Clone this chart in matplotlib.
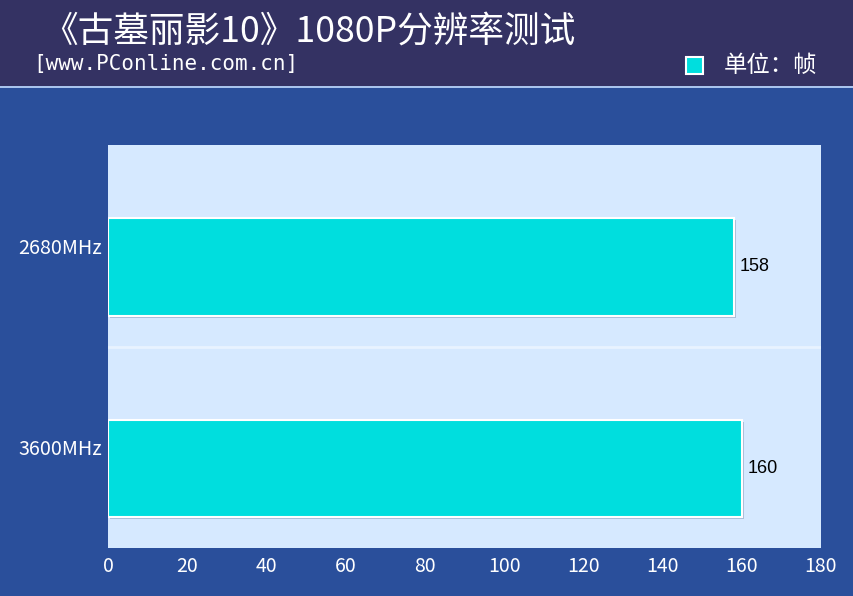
import numpy as np
import matplotlib
matplotlib.use('Agg')
import matplotlib.pyplot as plt
from matplotlib.patches import Rectangle
import matplotlib.patheffects as pe

plt.rcParams['font.family'] = ['Noto Sans CJK SC', 'DejaVu Sans']

# 数据
categories = ['2680MHz', '3600MHz']
values = [158, 160]
x_ticks = [0, 20, 40, 60, 80, 100, 120, 140, 160, 180]
title = '《古墓丽影10》1080P分辨率测试'
subtitle = '[www.PConline.com.cn]'
unit = '单位：帧'

head_c = '#343263'
body_c = '#2a4f9b'
plot_bg = '#d6e9ff'
bar_c = '#00dede'

W, H = 854, 596
fig = plt.figure(figsize=(W / 100, H / 100), dpi=100)
fig.patch.set_facecolor(body_c)

# 顶部标题栏
fig.patches.append(Rectangle((0, 1 - 86 / H), 1, 86 / H, transform=fig.transFigure,
                             facecolor=head_c, edgecolor='none', zorder=0))
fig.patches.append(Rectangle((0, 1 - 88 / H), 1, 2 / H, transform=fig.transFigure,
                             facecolor='#a9c4ee', edgecolor='none', zorder=0))

fig.text(42 / W, 1 - 32 / H, title, color='white', fontsize=25.7, va='center', ha='left')
fig.text(33 / W, 1 - 64 / H, subtitle, color='white', fontsize=15, va='center', ha='left',
         family='DejaVu Sans Mono')
fig.patches.append(Rectangle((686 / W, 1 - 74 / H), 17 / W, 17 / H, transform=fig.transFigure,
                             facecolor=bar_c, edgecolor='white', linewidth=1.5, zorder=2))
fig.text(724 / W, 1 - 65 / H, unit, color='white', fontsize=16.8, va='center', ha='left')

ax = fig.add_axes([108 / W, 48 / H, 713 / W, 403 / H])
ax.set_facecolor(plot_bg)
for s in ax.spines.values():
    s.set_visible(False)

y = np.arange(len(categories))
bar_shift = 0.105
ax.barh(y + bar_shift, values, height=0.485, color=bar_c, edgecolor='white', linewidth=1.5,
        path_effects=[pe.SimplePatchShadow(offset=(1.5, -1.5), shadow_rgbFace='#8aa0c0', alpha=0.6),
                      pe.Normal()], zorder=3)
ax.set_ylim(1.5, -0.5)
ax.set_xlim(0, 180)
ax.axhline(0.5, color='#e8f3ff', linewidth=2, zorder=1)

for i, v in enumerate(values):
    ax.text(v + 1.5, y[i] + bar_shift, str(v), va='center', ha='left', fontsize=13, color='black',
            family='Liberation Sans')

ax.set_yticks(y)
ax.set_yticklabels(categories, color='white', fontsize=14.2)
ax.set_xticks(x_ticks)
ax.set_xticklabels([str(t) for t in x_ticks], color='white', fontsize=14)
ax.tick_params(axis='both', length=0, pad=4)
ax.tick_params(axis='x', pad=6)

fig.savefig('out.png', dpi=100, facecolor=fig.get_facecolor())
